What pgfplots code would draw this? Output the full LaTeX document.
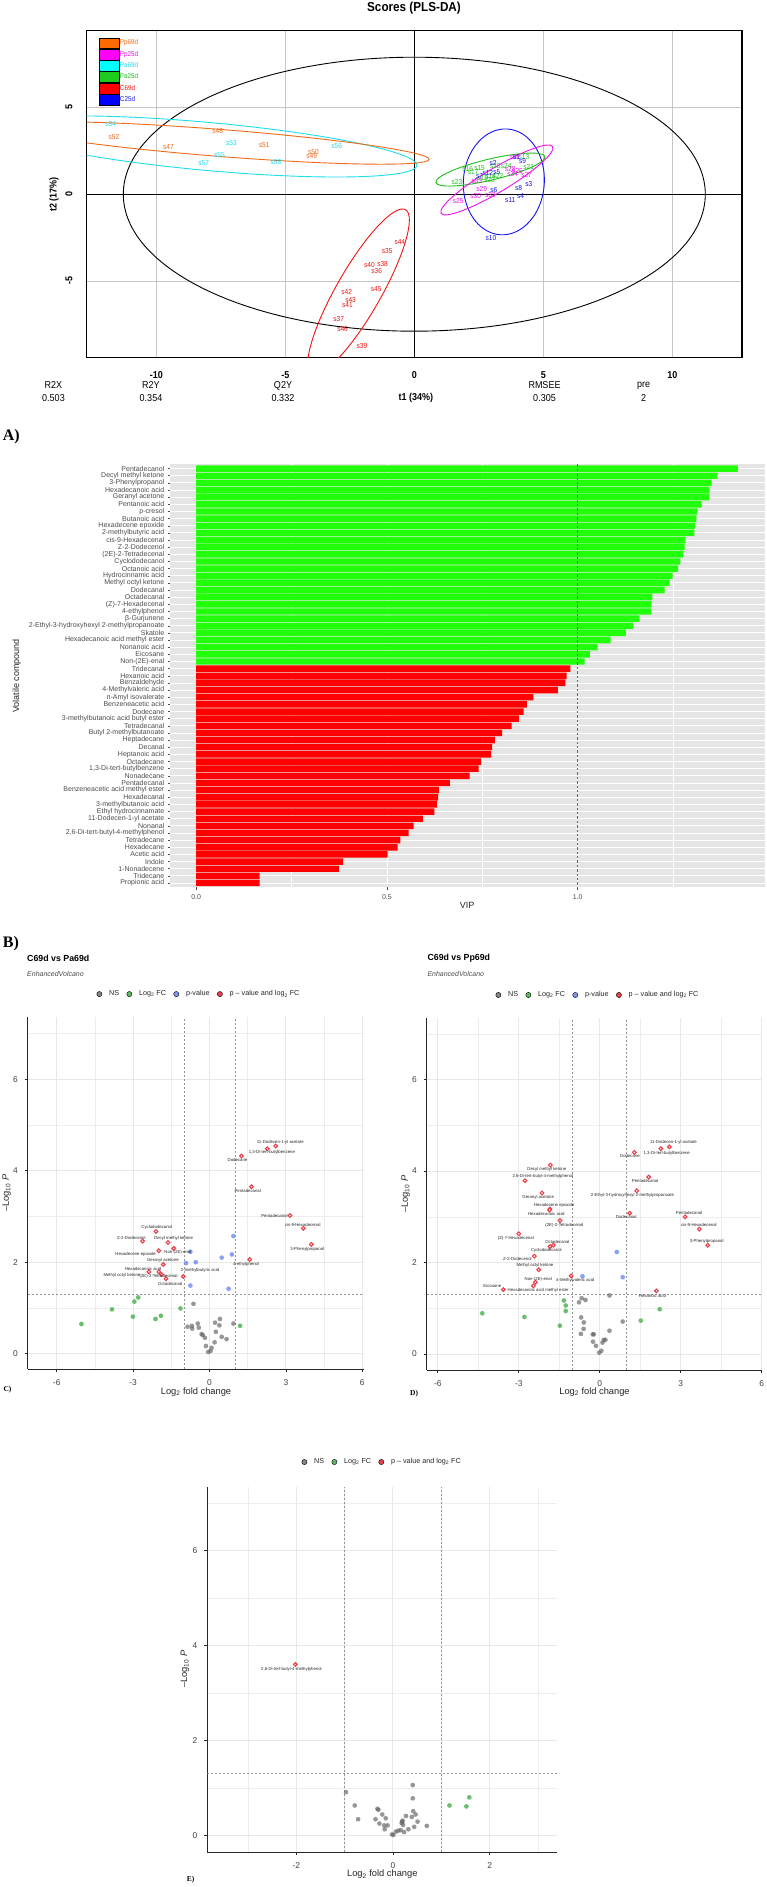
\documentclass[border=0pt]{standalone}
\usepackage{fontspec}
\setmainfont{Liberation Sans}
\newfontfamily\condfont[FakeStretch=0.9]{Liberation Sans}
\newfontfamily\timesfont{Liberation Serif}
\usepackage{pgfplots}
\usepackage{pgfplotstable}
\pgfplotsset{compat=1.18}
\newcommand{\fs}[1]{\fontsize{#1}{#1}\selectfont}

\definecolor{cPp69}{HTML}{F06A18}
\definecolor{cPp25}{HTML}{F010F0}
\definecolor{cPa69}{HTML}{1EDDEE}
\definecolor{cPa25}{HTML}{1EC01E}
\definecolor{cC69}{HTML}{F01414}
\definecolor{cC25}{HTML}{1414F0}
\definecolor{lPp69}{HTML}{FF6A00}
\definecolor{lPp25}{HTML}{FF00FF}
\definecolor{lPa69}{HTML}{00FFFF}
\definecolor{lPa25}{HTML}{1ECC1E}
\definecolor{lC69}{HTML}{FF0000}
\definecolor{lC25}{HTML}{0000FF}
\definecolor{vipbg}{HTML}{E5E5E5}
\definecolor{vipG}{HTML}{22FF0A}
\definecolor{vipR}{HTML}{FF0000}
\definecolor{vNS}{HTML}{666666}
\definecolor{vFC}{HTML}{5DB860}
\definecolor{vP}{HTML}{7E98F2}
\definecolor{vR}{HTML}{E8414B}
\definecolor{txt}{HTML}{4D4D4D}

% ---------- PLS-DA scores ----------
\pgfplotstableread{
x y l
-7.62 3.66 s48
-11.64 3.31 s52
-9.53 2.72 s47
-5.82 2.85 s51
-3.91 2.43 s50
-3.98 2.22 s49
}\plsPp
\pgfplotstableread{
x y l
-11.76 4.02 s54
-7.09 2.97 s53
-7.55 2.24 s55
-8.16 1.78 s57
-5.36 1.84 s58
-3.01 2.78 s56
}\plsPa
\pgfplotstableread{
x y l
-0.56 -2.76 s44
-1.05 -3.28 s35
-1.74 -4.06 s40
-1.23 -4.04 s38
-1.46 -4.41 s36
-1.48 -5.46 s45
-2.62 -5.65 s42
-2.47 -6.07 s43
-2.59 -6.40 s41
-2.93 -7.18 s37
-2.78 -7.76 s46
-2.03 -8.75 s39
}\plsC
\pgfplotstableread{
x y l
3.95 2.13 s1
3.05 1.82 s2
4.44 0.57 s3
4.12 -0.10 s4
3.20 1.26 s5
3.08 0.27 s6
2.53 1.02 s7
4.04 0.38 s8
4.20 1.93 s9
2.97 -2.55 s10
3.72 -0.31 s11
2.85 1.21 s12
}\plsCc
\pgfplotstableread{
x y l
4.25 2.16 s13
2.95 1.05 s14
2.53 1.53 s15
2.07 1.44 s16
2.28 1.30 s17
3.14 1.65 s18
2.66 0.92 s19
2.91 0.82 s20
4.43 1.59 s21
3.24 1.05 s22
1.65 0.73 s23
3.56 1.65 s24
}\plsPac
\pgfplotstableread{
x y l
1.70 -0.40 s25
4.00 1.34 s26
4.35 1.13 s27
3.72 1.44 s28
2.61 0.31 s29
2.38 -0.13 s30
3.91 2.16 s31
2.95 -0.06 s32
2.43 0.79 s33
3.81 1.17 s34
}\plsPpc

% ---------- VIP ----------
\pgfplotstableread{
i v
1 1.420
2 1.366
3 1.351
4 1.345
5 1.345
6 1.325
7 1.314
8 1.311
9 1.307
10 1.306
11 1.282
12 1.280
13 1.276
14 1.269
15 1.263
16 1.249
17 1.241
18 1.228
19 1.196
20 1.193
21 1.192
22 1.162
23 1.145
24 1.126
25 1.086
26 1.052
27 1.032
28 1.018
}\vipGt
\pgfplotstableread{
i v
29 0.981
30 0.971
31 0.968
32 0.948
33 0.884
34 0.867
35 0.858
36 0.846
37 0.827
38 0.802
39 0.783
40 0.776
41 0.773
42 0.747
43 0.740
44 0.717
45 0.665
46 0.636
47 0.634
48 0.631
49 0.624
50 0.594
51 0.570
52 0.557
53 0.535
54 0.528
55 0.502
56 0.385
57 0.374
58 0.166
59 0.166
}\vipRt

% ---------- Volcano C ----------
\pgfplotstableread{
x y
-0.63 1.09
-0.86 0.59
-0.69 0.61
-0.68 0.55
-0.46 0.66
-0.42 0.57
-0.31 0.43
-0.27 0.41
-0.18 0.35
-0.14 0.17
-0.05 0.04
0.04 0.06
0.08 0.13
0.22 0.68
0.41 0.76
0.39 0.62
0.25 0.48
0.20 0.25
0.48 0.37
0.67 0.32
0.94 0.66
}\cNS
\pgfplotstableread{
x y
-5.03 0.65
-3.83 0.97
-2.95 1.14
-2.80 1.23
-3.01 0.81
-2.12 0.76
-1.91 0.83
-1.14 0.99
1.20 0.61
}\cFC
\pgfplotstableread{
x y
0.94 2.57
-0.75 2.23
-0.92 1.98
-0.54 2.00
0.48 2.10
0.88 2.17
-0.75 1.49
0.75 1.42
}\cP
\pgfplotstableread{
x y
2.60 4.54
2.27 4.48
1.26 4.32
1.65 3.65
3.16 3.02
3.69 2.74
4.00 2.39
1.58 2.06
-2.10 2.67
-2.63 2.46
-1.63 2.43
-1.40 2.30
-1.99 2.25
-1.82 1.95
-1.99 1.79
-1.88 1.73
-2.38 1.79
-1.71 1.64
-1.03 1.69
}\cR
\pgfplotstableread[col sep=semicolon]{
x;y;l
2.78;4.62;11-Dodecen-1-yl acetate
2.45;4.39;1,3-Di-tert-butylbenzene
1.10;4.23;Dodecane
1.50;3.56;Pentadecanal
2.55;3.00;Pentadecanol
3.66;2.82;cis-9-Hexadecenal
3.84;2.28;3-Phenylpropanol
1.44;1.96;4-ethylphenol
-2.07;2.76;Cyclododecanol
-3.07;2.54;Z-2-Dodecenol
-1.41;2.51;Decyl methyl ketone
-1.24;2.21;Non-(2E)-enal
-2.90;2.18;Hexadecene epoxide
-1.83;2.03;Geranyl acetone
-2.61;1.86;Hexadecanoic acid
-0.37;1.83;2-methylbutyric acid
-3.44;1.71;Methyl octyl ketone
-2.00;1.69;(2E)-2-Tetradecenal
-1.54;1.53;Octadecanal
}\cL

% ---------- Volcano D ----------
\pgfplotstableread{
x y
-0.67 1.22
-0.53 1.18
-0.77 1.13
0.36 1.28
-0.69 0.80
-0.59 0.69
-0.60 0.55
-0.70 0.44
-0.26 0.43
-0.22 0.43
-0.25 0.27
-0.14 0.18
-0.02 0.03
0.06 0.07
0.10 0.25
0.15 0.31
0.21 0.31
0.36 0.51
0.85 0.71
}\dNS
\pgfplotstableread{
x y
-4.35 0.89
-2.79 0.81
-1.33 1.17
-1.26 1.06
-1.26 0.94
-1.48 0.62
1.52 0.73
2.22 0.98
}\dFC
\pgfplotstableread{
x y
0.63 2.23
-0.64 1.70
0.85 1.68
}\dP
\pgfplotstableread{
x y
2.58 4.53
2.26 4.49
1.28 4.41
-1.83 4.13
-2.77 3.79
1.81 3.87
-2.14 3.52
1.37 3.57
-1.84 3.17
-1.86 3.15
1.11 3.08
-1.47 2.92
3.16 3.00
3.69 2.73
4.00 2.38
-3.00 2.63
-1.72 2.38
-1.84 2.35
-2.42 2.14
-2.26 1.84
-1.06 1.71
-2.38 1.57
-2.46 1.49
-3.57 1.41
2.10 1.38
}\dR
\pgfplotstableread[col sep=semicolon]{
x;y;l
2.73;4.62;11-Dodecen-1-yl acetate
2.48;4.39;1,3-Di-tert-butylbenzene
1.12;4.32;Dodecane
-1.96;4.04;Decyl methyl ketone
-2.11;3.88;2,6-Di-tert-butyl-4-methylphenol
1.68;3.79;Pentadecanal
-2.28;3.42;Geranyl acetone
1.21;3.47;2-Ethyl-3-hydroxyhexyl 2-methylpropanoate
-1.69;3.26;Hexadecene epoxide
-1.98;3.06;Hexadecanoic acid
0.98;2.99;Dodecanal
3.31;3.09;Pentadecanol
-1.31;2.82;(2E)-2-Tetradecenal
3.67;2.82;cis-9-Hexadecenal
-3.11;2.53;(Z)-7-Hexadecenal
-1.57;2.46;Octadecanal
3.96;2.46;3-Phenylpropanol
-1.98;2.26;Cyclododecanol
-3.05;2.08;Z-2-Dodecenol
-2.40;1.93;Methyl octyl ketone
-2.28;1.63;Non-(2E)-enal
-0.91;1.62;4-Methylvaleric acid
-3.98;1.49;Eicosane
-2.28;1.40;Hexadecanoic acid methyl ester
1.95;1.28;Hexanoic acid
}\dL

% ---------- Volcano E ----------
\pgfplotstableread{
x y
-0.97 0.91
-0.79 0.63
-0.72 0.34
-0.32 0.56
-0.36 0.34
-0.28 0.25
-0.22 0.44
-0.15 0.36
-0.18 0.21
-0.11 0.21
-0.17 0.13
-0.02 0.02
0.01 0.01
0.06 0.08
0.11 0.10
0.16 0.11
0.19 0.29
0.21 0.22
0.23 0.07
0.27 0.41
0.32 0.13
0.39 0.39
0.42 0.51
0.41 0.78
0.41 1.06
0.47 0.44
0.44 0.18
0.51 0.29
0.70 0.20
-0.30 0.54
0.18 0.26
0.20 0.31
}\eNS
\pgfplotstableread{
x y
1.17 0.63
1.52 0.61
1.58 0.80
}\eFC
\pgfplotstableread{
x y
-2.02 3.60
}\eR
\pgfplotstableread[col sep=semicolon]{
x;y;l
-2.10;3.50;2,6-Di-tert-butyl-4-methylphenol
}\eL

\tikzset{thr/.style={black!42, line width=0.6pt, dash pattern=on 2pt off 2pt}}
\pgfplotsset{
 volc/.style={
  scale only axis,
  axis lines*=left,
  axis line style={line width=0.9pt, black!85},
  grid=both,
  major grid style={black!9, line width=0.9pt},
  minor grid style={black!7, line width=0.5pt},
  tick style={black!85, line width=0.6pt},
  tick align=outside, major tick length=3pt, minor tick length=0pt,
  ytick={0,2,4,6}, yticklabels={0,2,4,6}, minor ytick={1,3,5,7},
  ticklabel style={font=\fs{8.4}, text=black!75},
  xticklabel style={anchor=center, yshift=-10.5pt},
  yticklabel style={anchor=center, xshift=-9.3pt},
  ylabel={\textendash Log\textsubscript{10} \textit{P}},
  xlabel={Log\textsubscript{2} fold change},
  label style={font=\fs{9.3}, text=black!85},
  legend image code/.code={\fill[##1] (0pt,0pt) circle (2.6pt);},
  legend cell align=left,
  legend style={legend columns=-1, draw=none, fill=none, inner sep=0pt,
    font=\fs{7.2}, text=black!85, nodes={inner sep=0pt},
    /tikz/every odd column/.style={column sep=7.0pt},
    /tikz/every even column/.style={column sep=7.4pt}},
 },
 nsm/.style={only marks, mark=*, color=vNS, mark size=2.35pt, mark options={draw=none, draw opacity=0, fill=vNS, fill opacity=0.68}},
 fcm/.style={only marks, mark=*, color=vFC, mark size=2.35pt, mark options={draw=none, draw opacity=0, fill=vFC, fill opacity=0.9}},
 pm/.style={only marks, mark=*, color=vP, mark size=2.35pt, mark options={draw=none, draw opacity=0, fill=vP, fill opacity=0.9}},
 rm/.style={only marks, mark=*, color=vR, mark size=1.85pt, mark options={draw=vR, fill=white, line width=1.1pt}},
 labm/.style={draw=none, mark=none, nodes near coords, point meta=explicit symbolic,
   nodes near coords style={anchor=center, inner sep=0pt, font=\fs{4.3}, text=black!85}},
}

\begin{document}
\begin{tikzpicture}
\useasboundingbox (0pt,0pt) rectangle (767pt,-1887pt);
\fill[white] (0pt,0pt) rectangle (767pt,-1887pt);

% ================= PLS-DA =================
\node[font=\condfont\bfseries\fs{13}] at (414pt,-8pt) {Scores (PLS-DA)};
\begin{axis}[at={(86.6pt,-357.7pt)}, anchor=south west, scale only axis,
  width=655.4pt, height=327pt,
  xmin=-12.7, xmax=12.7, ymin=-9.42, ymax=9.42,
  axis line style={line width=1.3pt, black},
  xtick={-10,-5,0,5,10}, xticklabels={-10,-5,0,5,10},
  ytick={-5,0,5}, yticklabels={-5,0,5},
  major tick length=0pt,
  grid=major, major grid style={gray!45, line width=0.9pt},
  ticklabel style={font=\condfont\bfseries\fs{10}},
  xticklabel style={anchor=center, yshift=-17pt},
  yticklabel style={anchor=center, xshift=-17.6pt, rotate=90},
  legend image code/.code={\fill[#1] (0pt,-5.45pt) rectangle (20pt,5.45pt);},
  legend cell align=left,
  legend style={at={(0.0189,0.9798)}, anchor=north west, draw=none, fill=none,
    inner sep=0pt, row sep=0pt, font=\condfont\fs{7}, nodes={inner sep=0.4pt},
    /tikz/every odd column/.style={column sep=0pt}},
]
\addlegendimage{fill=lPp69}\addlegendentry{\textcolor{cPp69}{Pp69d}}
\addlegendimage{fill=lPp25}\addlegendentry{\textcolor{cPp25}{Pp25d}}
\addlegendimage{fill=lPa69}\addlegendentry{\textcolor{cPa69}{Pa69d}}
\addlegendimage{fill=lPa25}\addlegendentry{\textcolor{cPa25}{Pa25d}}
\addlegendimage{fill=lC69}\addlegendentry{\textcolor{cC69}{C69d}}
\addlegendimage{fill=lC25}\addlegendentry{\textcolor{cC25}{C25d}}
\draw[black, line width=1pt] (axis cs:0,-9.42) -- (axis cs:0,9.42);
\draw[black, line width=1pt] (axis cs:-12.7,0) -- (axis cs:12.7,0);
\draw[black, line width=0.9pt] (axis cs:0,0) ellipse [x radius=291pt, y radius=137pt];
\draw[cPa69, line width=0.9pt, rotate around={-5.2:(axis cs:-8,2.75)}] (axis cs:-8,2.75) ellipse [x radius=210pt, y radius=24pt];
\draw[cPp69, line width=0.9pt, rotate around={-4.5:(axis cs:-7.5,2.95)}] (axis cs:-7.5,2.95) ellipse [x radius=209pt, y radius=13.5pt];
\draw[cC69, line width=0.9pt, rotate around={60.2:(axis cs:-2.16,-5.62)}] (axis cs:-2.16,-5.62) ellipse [x radius=94.5pt, y radius=22.3pt];
\draw[cC25, line width=0.9pt, rotate around={86:(axis cs:3.47,0.71)}] (axis cs:3.47,0.71) ellipse [x radius=53pt, y radius=40.5pt];
\draw[cPa25, line width=0.9pt, rotate around={13.4:(axis cs:2.95,1.42)}] (axis cs:2.95,1.42) ellipse [x radius=56pt, y radius=10.5pt];
\draw[cPp25, line width=0.9pt, rotate around={30.9:(axis cs:3.2,0.82)}] (axis cs:3.2,0.82) ellipse [x radius=65pt, y radius=12pt];
\addplot[draw=none, mark=none, nodes near coords, point meta=explicit symbolic,
  nodes near coords style={anchor=center, inner sep=0pt, font=\condfont\fs{7.3}, text=cPp69}] table[x=x,y=y,meta=l]{\plsPp};
\addplot[draw=none, mark=none, nodes near coords, point meta=explicit symbolic,
  nodes near coords style={anchor=center, inner sep=0pt, font=\condfont\fs{7.3}, text=cPa69}] table[x=x,y=y,meta=l]{\plsPa};
\addplot[draw=none, mark=none, nodes near coords, point meta=explicit symbolic,
  nodes near coords style={anchor=center, inner sep=0pt, font=\condfont\fs{7.3}, text=cC69}] table[x=x,y=y,meta=l]{\plsC};
\addplot[draw=none, mark=none, nodes near coords, point meta=explicit symbolic,
  nodes near coords style={anchor=center, inner sep=0pt, font=\condfont\fs{7.3}, text=cPa25}] table[x=x,y=y,meta=l]{\plsPac};
\addplot[draw=none, mark=none, nodes near coords, point meta=explicit symbolic,
  nodes near coords style={anchor=center, inner sep=0pt, font=\condfont\fs{7.3}, text=cPp25}] table[x=x,y=y,meta=l]{\plsPpc};
\addplot[draw=none, mark=none, nodes near coords, point meta=explicit symbolic,
  nodes near coords style={anchor=center, inner sep=0pt, font=\condfont\fs{7.3}, text=cC25}] table[x=x,y=y,meta=l]{\plsCc};
\end{axis}
\node[font=\condfont\bfseries\fs{10}, rotate=90] at (54pt,-194.3pt) {t2 (17\%)};
\begin{scope}[every node/.style={font=\condfont\fs{10}, inner sep=0pt}]
\node at (53.5pt,-385.5pt) {R2X};   \node at (53.5pt,-398.3pt) {0.503};
\node at (151pt,-385.5pt) {R2Y};    \node at (151pt,-398.3pt) {0.354};
\node at (283pt,-385.5pt) {Q2Y};    \node at (283pt,-398.3pt) {0.332};
\node[font=\condfont\bfseries\fs{10}] at (416pt,-398.3pt) {t1 (34\%)};
\node at (544.5pt,-385.5pt) {RMSEE}; \node at (544.5pt,-398.3pt) {0.305};
\node at (643.5pt,-385.5pt) {pre};  \node at (643.5pt,-398.3pt) {2};
\end{scope}

% ================= VIP =================
\node[font=\timesfont\bfseries\fs{16}, anchor=west, inner sep=0pt] at (2.7pt,-436.7pt) {A)};
\begin{axis}[at={(170pt,-887.3pt)}, anchor=south west, scale only axis,
  width=595pt, height=423pt,
  xmin=-0.0687, xmax=1.491, ymin=0.4, ymax=59.6, y dir=reverse,
  axis background/.style={fill=vipbg}, axis line style={draw=none},
  xtick pos=bottom, ytick pos=left,
  xtick={0,0.5,1}, xticklabels={0.0,0.5,1.0}, minor xtick={0.25,0.75,1.25},
  ytick={1,...,59},
  yticklabels={Pentadecanol,Decyl methyl ketone,3-Phenylpropanol,Hexadecanoic acid,Geranyl acetone,Pentanoic acid,p-cresol,Butanoic acid,Hexadecene epoxide,2-methylbutyric acid,cis-9-Hexadecenal,Z-2-Dodecenol,(2E)-2-Tetradecenal,Cyclododecanol,Octanoic acid,Hydrocinnamic acid,Methyl octyl ketone,Dodecanal,Octadecanal,(Z)-7-Hexadecenal,4-ethylphenol,β-Gurjunene,2-Ethyl-3-hydroxyhexyl 2-methylpropanoate,Skatole,Hexadecanoic acid methyl ester,Nonanoic acid,Eicosane,Non-(2E)-enal,Tridecanal,Hexanoic acid,Benzaldehyde,4-Methylvaleric acid,n-Amyl isovalerate,Benzeneacetic acid,Dodecane,3-methylbutanoic acid butyl ester,Tetradecanal,Butyl 2-methylbutanoate,Heptadecane,Decanal,Heptanoic acid,Octadecane,{1,3-Di-tert-butylbenzene},Nonadecane,Pentadecanal,Benzeneacetic acid methyl ester,Hexadecanal,3-methylbutanoic acid,Ethyl hydrocinnamate,11-Dodecen-1-yl acetate,Nonanal,{2,6-Di-tert-butyl-4-methylphenol},Tetradecane,Hexadecane,Acetic acid,Indole,1-Nonadecene,Tridecane,Propionic acid},
  grid=both, major grid style={white, line width=0.9pt}, minor grid style={white, line width=0.45pt},
  tick align=outside, major tick length=2.2pt, minor tick length=0pt,
  tick style={txt, line width=0.5pt},
  xticklabel style={font=\fs{7}, text=txt, anchor=center, yshift=-7.7pt},
  yticklabel style={font=\fs{7}, text=txt},
]
\addplot[xbar, bar width=6.44pt, bar shift=0pt, fill=vipG, draw=none] table[x=v,y=i]{\vipGt};
\addplot[xbar, bar width=6.44pt, bar shift=0pt, fill=vipR, draw=none] table[x=v,y=i]{\vipRt};
\draw[black!60, line width=0.8pt, dash pattern=on 2.4pt off 2pt] (axis cs:1,0.4) -- (axis cs:1,59.6);
\end{axis}
\node[font=\fs{9}, text=black!85] at (467pt,-905pt) {VIP};
\node[font=\fs{9}, text=black!85, rotate=90] at (16.7pt,-675.8pt) {Volatile compound};

% ================= Volcano C =================
\node[font=\timesfont\bfseries\fs{16}, anchor=west, inner sep=0pt] at (2.7pt,-943.3pt) {B)};
\node[font=\bfseries\fs{8.8}, anchor=west, inner sep=0pt] at (27pt,-958.5pt) {C69d vs Pa69d};
\node[font=\itshape\fs{7}, text=black!70, anchor=west, inner sep=0pt] at (27pt,-974pt) {EnhancedVolcano};
\begin{axis}[volc, at={(27.7pt,-1369.3pt)}, anchor=south west, width=336.6pt, height=352pt,
  xmin=-7.14, xmax=6.08, ymin=-0.34, ymax=7.35,
  xtick={-6,-3,0,3,6}, xticklabels={-6,-3,0,3,6}, minor xtick={-4.5,-1.5,1.5,4.5},
  xlabel style={at={(axis description cs:0.5,-0.0636)}, anchor=center},
  ylabel style={at={(axis description cs:-0.0624,0.5)}, anchor=center},
  legend style={at={(axis description cs:0.2040,1.066)}, anchor=west},
]
\addlegendimage{fill=vNS, fill opacity=0.8}\addlegendentry{NS}
\addlegendimage{fill=vFC}\addlegendentry{Log\textsubscript{2} FC}
\addlegendimage{fill=vP}\addlegendentry{p-value}
\addlegendimage{fill=vR}\addlegendentry{p \textendash{} value and log\textsubscript{2} FC}
\draw[thr] (axis cs:-1,-0.34) -- (axis cs:-1,7.35);
\draw[thr] (axis cs:1,-0.34) -- (axis cs:1,7.35);
\draw[thr] (axis cs:-7.14,1.30) -- (axis cs:6.08,1.30);
\addplot[nsm] table[x=x,y=y]{\cNS};
\addplot[fcm] table[x=x,y=y]{\cFC};
\addplot[pm] table[x=x,y=y]{\cP};
\addplot[rm] table[x=x,y=y]{\cR};
\addplot[labm] table[x=x,y=y,meta=l]{\cL};
\end{axis}
\node[font=\timesfont\bfseries\fs{7.5}, anchor=west, inner sep=0pt] at (3.3pt,-1390pt) {C)};

% ================= Volcano D =================
\node[font=\bfseries\fs{8.8}, anchor=west, inner sep=0pt] at (427.3pt,-958.5pt) {C69d vs Pp69d};
\node[font=\itshape\fs{7}, text=black!70, anchor=west, inner sep=0pt] at (427.3pt,-974pt) {EnhancedVolcano};
\begin{axis}[volc, at={(426.7pt,-1370pt)}, anchor=south west, width=335.6pt, height=351.7pt,
  xmin=-6.41, xmax=6.02, ymin=-0.35, ymax=7.34,
  xtick={-6,-3,0,3,6}, xticklabels={-6,-3,0,3,6}, minor xtick={-4.5,-1.5,1.5,4.5},
  xlabel style={at={(axis description cs:0.5,-0.0617)}, anchor=center},
  ylabel style={at={(axis description cs:-0.0626,0.5)}, anchor=center},
  legend style={at={(axis description cs:0.2046,1.0663)}, anchor=west},
]
\addlegendimage{fill=vNS, fill opacity=0.8}\addlegendentry{NS}
\addlegendimage{fill=vFC}\addlegendentry{Log\textsubscript{2} FC}
\addlegendimage{fill=vP}\addlegendentry{p-value}
\addlegendimage{fill=vR}\addlegendentry{p \textendash{} value and log\textsubscript{2} FC}
\draw[thr] (axis cs:-1,-0.35) -- (axis cs:-1,7.34);
\draw[thr] (axis cs:1,-0.35) -- (axis cs:1,7.34);
\draw[thr] (axis cs:-6.41,1.30) -- (axis cs:6.02,1.30);
\addplot[nsm] table[x=x,y=y]{\dNS};
\addplot[fcm] table[x=x,y=y]{\dFC};
\addplot[pm] table[x=x,y=y]{\dP};
\addplot[rm] table[x=x,y=y]{\dR};
\addplot[labm] table[x=x,y=y,meta=l]{\dL};
\end{axis}
\node[font=\timesfont\bfseries\fs{7.5}, anchor=west, inner sep=0pt] at (410pt,-1393.3pt) {D)};

% ================= Volcano E =================
\begin{axis}[volc, at={(207.3pt,-1852pt)}, anchor=south west, width=350pt, height=365.3pt,
  xmin=-3.84, xmax=3.40, ymin=-0.35, ymax=7.34,
  xtick={-2,0,2}, xticklabels={-2,0,2}, minor xtick={-3,-1,1,3},
  xlabel style={at={(axis description cs:0.5,-0.061)}, anchor=center},
  ylabel style={at={(axis description cs:-0.0637,0.5)}, anchor=center},
  legend style={at={(axis description cs:0.2688,1.0676)}, anchor=west},
]
\addlegendimage{fill=vNS, fill opacity=0.8}\addlegendentry{NS}
\addlegendimage{fill=vFC}\addlegendentry{Log\textsubscript{2} FC}
\addlegendimage{fill=vR}\addlegendentry{p \textendash{} value and log\textsubscript{2} FC}
\draw[thr] (axis cs:-1,-0.35) -- (axis cs:-1,7.34);
\draw[thr] (axis cs:1,-0.35) -- (axis cs:1,7.34);
\draw[thr] (axis cs:-3.84,1.30) -- (axis cs:3.40,1.30);
\addplot[nsm] table[x=x,y=y]{\eNS};
\addplot[fcm] table[x=x,y=y]{\eFC};
\addplot[rm] table[x=x,y=y]{\eR};
\addplot[labm] table[x=x,y=y,meta=l]{\eL};
\end{axis}
\node[font=\timesfont\bfseries\fs{7.5}, anchor=west, inner sep=0pt] at (186.7pt,-1880pt) {E)};
\end{tikzpicture}
\end{document}
